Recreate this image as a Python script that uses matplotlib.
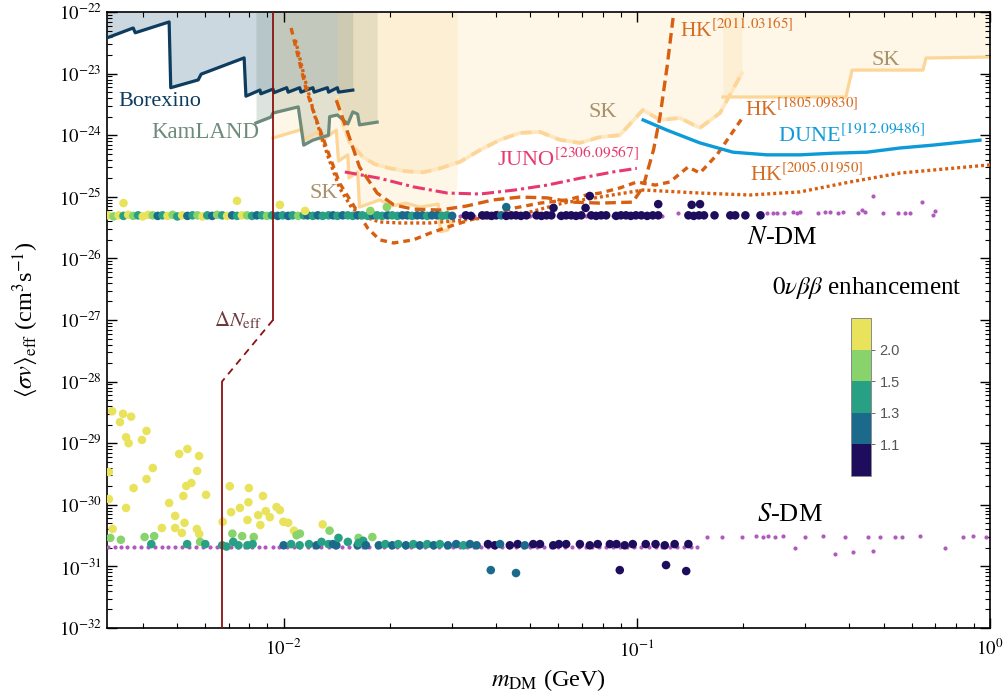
import numpy as np
import matplotlib
matplotlib.use("Agg")
import matplotlib.pyplot as plt
from matplotlib.colors import ListedColormap, BoundaryNorm
from matplotlib.ticker import LogLocator, NullFormatter, FuncFormatter, FixedLocator

plt.rcParams['font.family'] = ['Liberation Serif', 'DejaVu Serif']
plt.rcParams['mathtext.fontset'] = 'stix'

# ---------------- existing limits (mass GeV, <sigma v> cm^3/s) ----------------
borexino_m = [0.00316, 0.00375, 0.00380, 0.00474, 0.00479, 0.00573, 0.00584, 0.00773, 0.00782,
              0.00857, 0.00862, 0.00933, 0.00939, 0.0102, 0.0103, 0.0111, 0.0112, 0.0121, 0.0122,
              0.0133, 0.0134, 0.0142, 0.0143, 0.0157]
borexino_sv = [3.8e-23, 5.5e-23, 4.6e-23, 6.9e-23, 5.9e-24, 7.9e-24, 9.8e-24, 1.8e-23, 4.3e-24,
               5.4e-24, 4.7e-24, 5.6e-24, 4.9e-24, 5.9e-24, 5.0e-24, 5.9e-24, 5.0e-24, 5.9e-24, 5.0e-24,
               5.9e-24, 5.0e-24, 5.9e-24, 5.0e-24, 5.4e-24]

kamland_m = [0.00835, 0.00921, 0.00933, 0.0110, 0.0114, 0.0121, 0.0134, 0.0135, 0.0142,
             0.0152, 0.0157, 0.0162, 0.0164, 0.0184]
kamland_sv = [1.58e-24, 1.97e-24, 2.29e-24, 2.88e-24, 6.9e-25, 8.3e-25, 1.0e-24, 2.0e-24, 2.13e-24,
              1.52e-24, 2.39e-24, 2.2e-24, 1.47e-24, 1.63e-24]

sk_low_m = [0.00933, 0.0111, 0.0113, 0.0114, 0.0125, 0.0128, 0.0141, 0.0143, 0.0152, 0.0153,
            0.0162, 0.0164, 0.0187, 0.0202, 0.0222, 0.0243, 0.0274, 0.0278, 0.0292, 0.0302, 0.0310]
sk_low_sv = [9.0e-25, 1.21e-24, 1.36e-24, 8.4e-25, 1.13e-24, 8.05e-25, 1.21e-24, 3.8e-25, 4.8e-25, 2.02e-25,
             2.53e-25, 6.8e-26, 8.9e-26, 7.1e-26, 7.9e-26, 6.8e-26, 7.6e-26, 2.7e-26, 2.9e-26, 5.0e-26, 1.9e-25]

sk_mid_m = [0.0142, 0.0148, 0.0154, 0.0168, 0.0181, 0.0200, 0.0222, 0.0248, 0.0277, 0.0316, 0.0360,
            0.0410, 0.0467, 0.0532, 0.0606, 0.0690, 0.0786, 0.0895, 0.1041, 0.1163, 0.1325, 0.1509,
            0.1720, 0.1985]
sk_mid_sv = [4.0e-24, 1.36e-24, 7.5e-25, 4.4e-25, 3.4e-25, 2.9e-25, 2.6e-25, 2.5e-25, 2.9e-25, 3.7e-25, 5.75e-25,
             8.4e-25, 1.09e-24, 1.13e-24, 8.4e-25, 7.5e-25, 9.3e-25, 1.0e-24, 2.57e-24, 1.77e-24, 1.9e-24, 1.31e-24,
             2.29e-24, 1.02e-23]

sk_high_m = [0.1754, 0.391, 0.407, 0.646, 0.659, 1.0]
sk_high_sv = [4.17e-24, 4.17e-24, 1.14e-23, 1.14e-23, 1.79e-23, 1.86e-23]

# ---------------- projections ----------------
hk2011_m = [0.0141, 0.0152, 0.0164, 0.0184, 0.0205, 0.0233, 0.0277, 0.0330, 0.0392, 0.0467, 0.0558,
            0.0656, 0.0786, 0.0974, 0.1042, 0.1115, 0.1163, 0.1218, 0.1267]
hk2011_sv = [3.7e-24, 1.09e-24, 3.05e-25, 1.15e-25, 7.4e-26, 6.3e-26, 6.1e-26, 7.1e-26, 8.9e-26, 9.9e-26, 9.6e-26,
             8.2e-26, 7.9e-26, 8.2e-26, 1.45e-25, 5.75e-25, 1.97e-24, 1.28e-23, 8.0e-23]

hk1805_m = [0.0105, 0.0116, 0.0121, 0.0133, 0.0144, 0.0162, 0.0173, 0.0187, 0.0205, 0.0233, 0.0260,
            0.0304, 0.0360, 0.0452, 0.0532, 0.0634, 0.0721, 0.0786, 0.0895, 0.1000, 0.1128, 0.1241,
            0.1397, 0.1509, 0.1686, 0.1998]
hk1805_sv = [5.5e-23, 5.4e-24, 2.57e-24, 5.75e-25, 1.67e-25, 5.66e-26, 3.1e-26, 2.0e-26, 1.78e-26, 2.0e-26, 2.58e-26,
             3.5e-26, 4.7e-26, 6.6e-26, 7.9e-26, 8.9e-26, 1.07e-25, 1.15e-25, 1.39e-25, 1.74e-25, 1.55e-25, 1.74e-25,
             3.05e-25, 2.43e-25, 4.8e-25, 1.97e-24]

hk2005_m = [0.0108, 0.0115, 0.0123, 0.0134, 0.0144, 0.0156, 0.0170, 0.0187, 0.0213, 0.0260, 0.0322,
            0.0402, 0.0498, 0.0618, 0.0786, 0.1042, 0.1509, 0.2091, 0.2897, 0.4014, 0.5562, 1.0]
hk2005_sv = [3.5e-23, 7.9e-24, 1.9e-24, 4.27e-25, 1.39e-25, 6.6e-26, 4.7e-26, 3.9e-26, 3.76e-26, 3.76e-26, 4.2e-26,
             4.7e-26, 5.66e-26, 7.9e-26, 9.9e-26, 1.29e-25, 1.15e-25, 1.07e-25, 1.2e-25, 1.74e-25, 2.43e-25, 3.3e-25]

juno_m = [0.0149, 0.0187, 0.0233, 0.0291, 0.0360, 0.0452, 0.0558, 0.0690, 0.0856, 0.1000]
juno_sv = [2.53e-25, 2.0e-25, 1.45e-25, 1.15e-25, 1.11e-25, 1.29e-25, 1.55e-25, 2.0e-25, 2.53e-25, 2.9e-25]

dune_m = [0.1042, 0.1217, 0.1509, 0.1872, 0.2336, 0.2897, 0.3593, 0.4485, 0.5562, 0.6896, 0.9369]
dune_sv = [1.77e-24, 1.21e-24, 7.5e-25, 5.3e-25, 4.8e-25, 4.8e-25, 5.1e-25, 5.3e-25, 6.2e-25, 6.9e-25, 8.3e-25]

# Delta N_eff bound
dneff_m = [0.00933, 0.00933, 0.00669, 0.00669]
dneff_sv = [1e-22, 1e-27, 1e-28, 1e-32]

# ---------------- scan points ----------------
# enhancement class codes -> value on the colour scale
level = {'N': 1.05, 'B': 1.2, 'T': 1.4, 'G': 1.75, 'Y': 2.25}

ndm_m = [0.00318, 0.00330, 0.00341, 0.00352, 0.00363, 0.00375, 0.00387, 0.00399, 0.00413, 0.00426,
         0.00440, 0.00454, 0.00469, 0.00485, 0.00500, 0.00516, 0.00534, 0.00552, 0.00570, 0.00589,
         0.00608, 0.00628, 0.00648, 0.00670, 0.00692, 0.00715, 0.00738, 0.00762, 0.00788, 0.00814,
         0.00840, 0.00868, 0.00897, 0.00927, 0.00962, 0.00994, 0.0103, 0.0106, 0.0110, 0.0114,
         0.0117, 0.0121, 0.0125, 0.0129, 0.0134, 0.0138, 0.0142, 0.0147, 0.0152, 0.0157,
         0.0162, 0.0167, 0.0173, 0.0179, 0.0184, 0.0190, 0.0197, 0.0203, 0.0210, 0.0217,
         0.0224, 0.0231, 0.0239, 0.0247, 0.0255, 0.0263, 0.0272, 0.0281, 0.0290, 0.0300,
         0.0328, 0.0339, 0.0365, 0.0376, 0.0388, 0.0400, 0.0413, 0.0427, 0.0441, 0.0455,
         0.0470, 0.0487, 0.0520, 0.0537, 0.0555, 0.0573, 0.0611, 0.0631, 0.0652, 0.0673,
         0.0696, 0.0743, 0.0767, 0.0793, 0.0819, 0.0874, 0.0902, 0.0932, 0.0962, 0.0994,
         0.103, 0.107, 0.111, 0.115, 0.140, 0.145, 0.150, 0.155, 0.166, 0.184,
         0.190, 0.203, 0.224,
         0.00352, 0.00738, 0.00976, 0.0115, 0.0176, 0.0196, 0.0427, 0.0581, 0.0716, 0.0736,
         0.115, 0.143, 0.151]
ndm_sv26 = [5.0, 4.8, 5.0, 4.9, 5.1, 4.9, 5.0, 4.8, 5.1, 5.0, 4.9, 5.0, 4.9, 5.1, 4.8, 5.0, 4.9, 5.0, 5.0, 4.8,
            5.0, 4.9, 5.1, 5.0, 4.9, 5.0, 4.9, 5.0, 5.0, 4.9, 5.0, 5.0, 4.9, 5.0, 4.9, 5.0, 4.9, 5.0, 4.9, 5.0,
            5.0, 4.9, 5.0, 4.9, 5.0, 5.0, 4.9, 5.0, 5.0, 4.9, 5.0, 5.0, 4.9, 5.0, 5.0, 4.9, 5.0, 5.0, 4.9, 5.0,
            5.0, 4.9, 5.0, 5.0, 4.9, 5.0, 5.0, 4.9, 5.0, 4.9,
            5.0, 4.9, 5.0, 5.0, 4.9, 5.0, 5.0, 4.9, 5.0, 5.0, 4.9, 5.0, 5.0, 4.9, 5.0, 5.0, 4.9, 5.0, 5.0, 4.9,
            5.0, 5.0, 4.9, 5.0, 5.0, 4.9, 5.0, 5.0, 4.9, 5.0, 5.0, 4.9, 5.0, 5.0, 5.0, 4.9, 5.0, 5.0, 5.0, 5.0,
            5.0, 5.0, 5.0,
            7.9, 8.6, 7.4, 5.9, 5.9, 6.8, 6.8, 6.6, 6.6, 10.3, 7.6, 7.4, 7.6]
ndm_code = ("YGYTYGTYYG" "BTYGTYBTGY" "TBGTYBTYGT" "BTGTBTBTGT" "BTBTTBTBTT" "BTTBTTBTTB" "BTBBTBBTTB"
            "NNNNNNBNNN" "NNNNNNNNNN" "NNNNNNNNNN" "NNNNNNNNNN" "NNN"
            "YYYYGGBNNNNNN")

sdm_m = [0.00327, 0.00344, 0.00351, 0.00370, 0.00358, 0.00364, 0.00397, 0.00409, 0.00320, 0.00376,
         0.00409, 0.00426, 0.00358, 0.00320, 0.00328, 0.00452, 0.00474, 0.00493, 0.00493, 0.00506,
         0.00534, 0.00576, 0.00569, 0.00548, 0.00530, 0.00520, 0.00524, 0.00568, 0.00577, 0.00603,
         0.00515, 0.00672, 0.00704, 0.00710, 0.00752, 0.00790, 0.00795, 0.00797, 0.00847, 0.00859,
         0.00874, 0.00890, 0.00914, 0.00955, 0.00976, 0.00998, 0.0103, 0.0107, 0.0129,
         0.00323, 0.00346, 0.00404, 0.00430, 0.00580, 0.00716, 0.00763, 0.00823, 0.01088, 0.01112,
         0.01349, 0.0163, 0.01783,
         0.00422, 0.00533, 0.00600, 0.00670, 0.00689, 0.00720, 0.00745, 0.00790, 0.00817, 0.0100,
         0.0105, 0.0111, 0.0118, 0.0124, 0.0128, 0.0134, 0.0138, 0.0141, 0.0143, 0.0152,
         0.0162, 0.0163, 0.0168, 0.0171, 0.0186, 0.0194, 0.0203, 0.0211, 0.0222, 0.0233,
         0.0243, 0.0255, 0.0266, 0.0277, 0.0292, 0.0308, 0.0323, 0.0337, 0.0352, 0.0379,
         0.0396, 0.0410, 0.0437, 0.0460, 0.0482, 0.0509, 0.0532, 0.0580, 0.0602, 0.0631,
         0.0690, 0.0736, 0.0775, 0.0839, 0.0876, 0.0924, 0.0974, 0.106, 0.113, 0.120,
         0.128, 0.140,
         0.0386, 0.0455, 0.0895, 0.121, 0.138]
sdm_sv = [3.3e-29, 2.2e-29, 3.0e-29, 2.7e-29, 1.25e-29, 1.0e-29, 1.13e-29, 1.58e-29, 3.4e-30, 1.87e-30,
          2.62e-30, 3.95e-30, 8.9e-31, 1.24e-30, 4.05e-31, 4.2e-31, 1.07e-30, 6.6e-31, 4.2e-31, 6.7e-30,
          8.05e-30, 6.2e-30, 3.54e-30, 2.26e-30, 2.02e-30, 1.39e-30, 5.1e-31, 4.05e-31, 3.36e-31, 1.45e-30,
          3.5e-31, 5.3e-31, 2.0e-30, 7.6e-31, 8.9e-31, 5.66e-31, 1.1e-30, 1.87e-30, 6.8e-31, 4.7e-31,
          1.39e-30, 7.9e-31, 6.3e-31, 9.2e-31, 8.2e-31, 5.3e-31, 5.1e-31, 3.8e-31, 4.8e-31,
          2.9e-31, 2.7e-31, 3.0e-31, 3.1e-31, 2.5e-31, 3.4e-31, 3.1e-31, 3.0e-31, 3.2e-31, 3.4e-31,
          3.8e-31, 2.9e-31, 3.0e-31,
          2.3e-31, 2.3e-31, 2.3e-31, 2.2e-31, 2.1e-31, 2.5e-31, 2.2e-31, 2.2e-31, 2.3e-31, 2.2e-31,
          2.3e-31, 2.2e-31, 2.3e-31, 2.2e-31, 2.5e-31, 2.3e-31, 2.3e-31, 2.2e-31, 2.9e-31, 2.5e-31,
          2.2e-31, 2.4e-31, 2.6e-31, 2.2e-31, 2.2e-31, 2.3e-31, 2.2e-31, 2.3e-31, 2.2e-31, 2.3e-31,
          2.2e-31, 2.3e-31, 2.2e-31, 2.3e-31, 2.2e-31, 2.3e-31, 2.2e-31, 2.3e-31, 2.2e-31, 2.3e-31,
          2.2e-31, 2.3e-31, 2.2e-31, 2.3e-31, 2.2e-31, 2.3e-31, 2.3e-31, 2.2e-31, 2.3e-31, 2.3e-31,
          2.3e-31, 2.2e-31, 2.3e-31, 2.3e-31, 2.3e-31, 2.2e-31, 2.3e-31, 2.3e-31, 2.3e-31, 2.2e-31,
          2.3e-31, 2.3e-31,
          8.7e-32, 7.8e-32, 8.7e-32, 1.05e-31, 8.4e-32]
sdm_code = ("YYYYYYYYYY" "YYYYYYYYYY" "YYYYYYYYYY" "YYYYYYYYYY" "YYYYYYYYY"
            "GGGGGGGGGGGGG"
            "TTTTTTTTTB" "TTTBTTBBTT" "BTTBBTBTBT" "BTBTBBTBBN" "NBNNBNNNNN" "NNNNNNNNNN" "NN"
            "BBNNN")

# purple: points without the enhancement
scan_m = [0.00318, 0.00332, 0.00347, 0.00361, 0.00378, 0.00394, 0.00413, 0.00431, 0.00452, 0.00471,
          0.00494, 0.00516, 0.00540, 0.00566, 0.00591, 0.00618, 0.00648, 0.00677, 0.00709, 0.00741,
          0.00776, 0.00811, 0.00850, 0.00888, 0.00930, 0.00972, 0.0102, 0.0107, 0.0111, 0.0117,
          0.0122, 0.0128, 0.0134, 0.0140, 0.0146, 0.0153, 0.0160, 0.0168, 0.0175, 0.0184,
          0.0192, 0.0201, 0.0210, 0.0220, 0.0230, 0.0241, 0.0252, 0.0264, 0.0276, 0.0289,
          0.0302, 0.0316, 0.0331, 0.0346, 0.0362, 0.0379, 0.0397, 0.0415, 0.0434, 0.0454,
          0.0476, 0.0498, 0.0521, 0.0545, 0.0570, 0.0597, 0.0625, 0.0654, 0.0684, 0.0716,
          0.0749, 0.0784, 0.0820, 0.0858, 0.0898, 0.0940, 0.0984, 0.103, 0.108, 0.113, 0.118]
ndm_purple_sv = 4.8e-26
sdm_purple_sv = 2.05e-31

ndm_sparse_m = [0.1306, 0.2336, 0.2427, 0.2500, 0.2610, 0.2768, 0.2842, 0.2900, 0.3258, 0.3410, 0.3523,
                0.3711, 0.3832, 0.4228, 0.4340, 0.4427, 0.4670, 0.4986, 0.5490, 0.5731, 0.5936, 0.6420,
                0.6896, 0.6988]
ndm_sparse_sv = [5.45e-26, 5.45e-26, 5.45e-26, 5.45e-26, 5.45e-26, 5.65e-26, 5.45e-26, 5.65e-26, 5.45e-26,
                 5.65e-26, 5.65e-26, 5.45e-26, 5.65e-26, 5.45e-26, 6.1e-26, 5.65e-26, 1.03e-25, 5.45e-26,
                 5.45e-26, 5.45e-26, 5.45e-26, 8.3e-26, 5.0e-26, 5.9e-26]

sdm_sparse_m = [0.124, 0.130, 0.136, 0.142, 0.148, 0.1580, 0.1743, 0.1985, 0.2175, 0.2278, 0.2358, 0.2462,
                0.2593, 0.2804, 0.2993, 0.3366, 0.3640, 0.3886, 0.4098, 0.4512, 0.4670, 0.4882, 0.5386,
                0.5636, 0.6337, 0.7462, 0.8380, 0.8953, 0.9742]
sdm_sparse_sv = [2.1e-31, 2.1e-31, 2.1e-31, 2.1e-31, 2.1e-31, 3.0e-31, 3.0e-31, 3.0e-31, 3.1e-31, 3.0e-31,
                 3.1e-31, 3.0e-31, 3.1e-31, 2.0e-31, 3.0e-31, 3.1e-31, 1.58e-31, 3.0e-31, 1.71e-31, 3.0e-31,
                 1.8e-31, 3.0e-31, 3.0e-31, 3.0e-31, 3.1e-31, 2.0e-31, 3.0e-31, 3.1e-31, 3.0e-31]

cb_colors = ['#1e0c5c', '#1b6a8b', '#28a083', '#88d36b', '#e8e35a']
cb_bounds = [1.0, 1.1, 1.3, 1.5, 2.0, 2.5]
cb_ticks = [1.1, 1.3, 1.5, 2.0]

y_major = [1e-32, 1e-31, 1e-30, 1e-29, 1e-28, 1e-27, 1e-26, 1e-25, 1e-24, 1e-23, 1e-22]
x_major = [1e-2, 1e-1, 1.0]

# colours
c_bor = '#0d3c5e'
c_kam = '#6d8b7a'
c_sk = '#fdd596'
c_sk_txt = '#a8916b'
c_hk = '#d75f0f'
c_hk_txt = '#d46c22'
c_juno = '#e8386e'
c_dune = '#0d9ad8'
c_neff = '#8b1111'
c_purple = '#b05abe'

fig = plt.figure(figsize=(10.08, 6.98), dpi=100)
ax = fig.add_axes([0.1062, 0.1003, 0.8759, 0.8825])
ax.set_xscale('log')
ax.set_yscale('log')
ax.set_xlim(10 ** -2.5, 1.0)
ax.set_ylim(1e-32, 1e-22)

TOP = 1e-22
# filled regions
ax.fill_between(borexino_m, borexino_sv, TOP, color='#1b4f72', alpha=0.22, lw=0, zorder=1)
ax.fill_between(kamland_m, kamland_sv, TOP, color='#6e8c7d', alpha=0.23, lw=0, zorder=1)
for mm, ss in [(sk_low_m, sk_low_sv), (sk_mid_m, sk_mid_sv), (sk_high_m, sk_high_sv)]:
    ax.fill_between(mm, ss, TOP, color='#fbd38a', alpha=0.2, lw=0, zorder=1)

ax.plot(borexino_m, borexino_sv, color=c_bor, lw=2.3, zorder=3)
ax.plot(kamland_m, kamland_sv, color=c_kam, lw=2.3, zorder=3)
ax.plot(sk_low_m[:-1], sk_low_sv[:-1], color=c_sk, lw=2.3, zorder=2)
ax.plot(sk_high_m, sk_high_sv, color=c_sk, lw=2.3, zorder=2)
ax.plot(sk_mid_m, sk_mid_sv, color='#fee6bd', lw=2.6, zorder=2)
ax.plot(sk_mid_m, sk_mid_sv, color=c_sk, lw=2.6, dashes=(3, 2), zorder=2)

ax.plot(hk2011_m, hk2011_sv, color=c_hk, lw=2.4, dashes=(3.2, 1.6), zorder=3)
ax.plot(hk1805_m, hk1805_sv, color=c_hk, lw=2.4, dashes=(2.0, 1.5), zorder=3)
ax.plot(hk2005_m, hk2005_sv, color=c_hk, lw=2.4, dashes=(0.9, 0.9), zorder=3)
ax.plot(juno_m, juno_sv, color=c_juno, lw=2.2, dashes=(4, 1.3, 1, 1.3), zorder=3)
ax.plot(dune_m, dune_sv, color=c_dune, lw=2.4, zorder=3)

ax.plot(dneff_m[:2], dneff_sv[:2], color=c_neff, lw=1.3, zorder=6)
ax.plot(dneff_m[1:3], dneff_sv[1:3], color=c_neff, lw=1.3, dashes=(4, 3), zorder=6)
ax.plot(dneff_m[2:], dneff_sv[2:], color=c_neff, lw=1.3, zorder=6)

# scan points
ax.scatter(scan_m, [ndm_purple_sv] * len(scan_m), s=9, color=c_purple, lw=0, zorder=4)
ax.scatter(scan_m, [sdm_purple_sv] * len(scan_m), s=9, color=c_purple, lw=0, zorder=4)
ax.scatter(ndm_sparse_m, ndm_sparse_sv, s=9, color=c_purple, lw=0, zorder=4)
ax.scatter(sdm_sparse_m, sdm_sparse_sv, s=9, color=c_purple, lw=0, zorder=4)

cmap = ListedColormap(cb_colors)
norm = BoundaryNorm(cb_bounds, cmap.N)
ndm_c = [level[k] for k in ndm_code]
sdm_c = [level[k] for k in sdm_code]
sc = ax.scatter(ndm_m, np.array(ndm_sv26) * 1e-26, c=ndm_c, cmap=cmap, norm=norm, s=38, lw=0, zorder=5)
ax.scatter(sdm_m, sdm_sv, c=sdm_c, cmap=cmap, norm=norm, s=38, lw=0, zorder=5)

# labels
ax.text(0.00447, 3.5e-24, 'Borexino', color=c_bor, fontsize=16, ha='center', va='center', zorder=7)
ax.text(0.00599, 1.1e-24, 'KamLAND', color=c_kam, fontsize=16.5, ha='center', va='center', zorder=7)
ax.text(0.0130, 1.15e-25, 'SK', color=c_sk_txt, fontsize=16, ha='center', va='center', zorder=7)
ax.text(0.0802, 2.3e-24, 'SK', color=c_sk_txt, fontsize=16, ha='center', va='center', zorder=7)
ax.text(0.507, 1.66e-23, 'SK', color=c_sk_txt, fontsize=16, ha='center', va='center', zorder=7)
ax.text(0.1325, 5.1e-23, r'HK$^{\mathrm{[2011.03165]}}$', color=c_hk_txt, fontsize=15.5, ha='left', va='center', zorder=7)
ax.text(0.2030, 2.6e-24, r'HK$^{\mathrm{[1805.09830]}}$', color=c_hk_txt, fontsize=15.5, ha='left', va='center', zorder=7)
ax.text(0.2510, 1.0e-24, r'DUNE$^{\mathrm{[1912.09486]}}$', color=c_dune, fontsize=16, ha='left', va='center', zorder=7)
ax.text(0.2090, 2.26e-25, r'HK$^{\mathrm{[2005.01950]}}$', color=c_hk_txt, fontsize=15.5, ha='left', va='center', zorder=7)
ax.text(0.0402, 4.0e-25, r'JUNO$^{\mathrm{[2306.09567]}}$', color=c_juno, fontsize=16, ha='left', va='center', zorder=7)
ax.text(0.2586, 2.14e-26, r'$N$-DM', color='black', fontsize=19, ha='center', va='center', zorder=7)
ax.text(0.2714, 6.8e-31, r'$S$-DM', color='black', fontsize=19, ha='center', va='center', zorder=7)
ax.text(0.0087, 1.0e-27, r'$\Delta N_{\rm eff}$', color='#6b3a3a', fontsize=15, ha='right', va='center', zorder=7)
fig.text(0.860, 0.587, r'$0\nu\beta\beta$ enhancement', fontsize=18, ha='center', va='center')

ax.set_xlabel(r'$m_{\rm DM}$ (GeV)', fontsize=17.5, va='center')
ax.set_ylabel(r'$\langle\sigma v\rangle_{\rm eff}$ (cm$^3$s$^{-1}$)', fontsize=17.5, va='center')
ax.xaxis.set_label_coords(0.5, -0.084)
ax.yaxis.set_label_coords(-0.093, 0.5)

pow_fmt = FuncFormatter(lambda v, pos: r'$10^{%d}$' % round(np.log10(v)))
ax.xaxis.set_major_locator(FixedLocator(x_major))
ax.yaxis.set_major_locator(FixedLocator(y_major))
ax.xaxis.set_major_formatter(pow_fmt)
ax.yaxis.set_major_formatter(pow_fmt)
ax.xaxis.set_minor_locator(LogLocator(base=10, subs=np.arange(2, 10), numticks=20))
ax.yaxis.set_minor_locator(LogLocator(base=10, subs=np.arange(2, 10), numticks=20))
ax.xaxis.set_minor_formatter(NullFormatter())
ax.yaxis.set_minor_formatter(NullFormatter())
ax.tick_params(which='both', direction='in', top=True, right=True, labelsize=13.5)
ax.tick_params(which='major', length=7, width=1.0)
ax.tick_params(which='minor', length=3.5, width=0.8)
ax.xaxis.set_tick_params(pad=8)
ax.yaxis.set_tick_params(pad=4)
for sp in ax.spines.values():
    sp.set_linewidth(1.2)

# colour bar
cax = fig.add_axes([0.844, 0.318, 0.0198, 0.226])
cb = fig.colorbar(sc, cax=cax, ticks=cb_ticks)
cb.ax.set_yticklabels(['%.1f' % t for t in cb_ticks], family='Liberation Sans')
cb.ax.tick_params(labelsize=10.5, colors='#555555', length=3, width=0.6)
cb.outline.set_edgecolor('#8a8a8a')
cb.outline.set_linewidth(0.7)
cb.ax.minorticks_off()

fig.savefig('out.png', dpi=100)
